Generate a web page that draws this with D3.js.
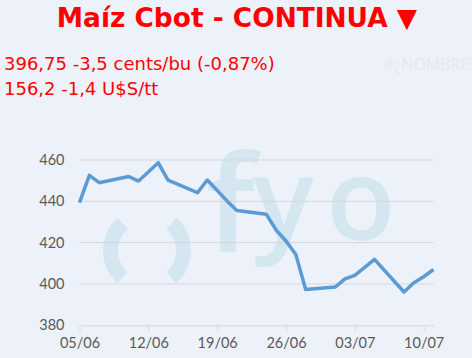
<!DOCTYPE html>
<html>
<head>
<meta charset="utf-8">
<script src="https://cdn.jsdelivr.net/npm/d3@7"></script>
<style>
  html, body { margin: 0; padding: 0; background: #edf2fa; }
  svg { display: block; }
</style>
</head>
<body>
<div id="viz"></div>
<script>
var dates = ["2024-06-05","2024-06-06","2024-06-07","2024-06-10","2024-06-11","2024-06-12","2024-06-13",
  "2024-06-14","2024-06-17","2024-06-18","2024-06-20","2024-06-21","2024-06-24","2024-06-25","2024-06-26",
  "2024-06-27","2024-06-28","2024-07-01","2024-07-02","2024-07-03","2024-07-05","2024-07-08","2024-07-09",
  "2024-07-10","2024-07-11"];
var prices = [439.4, 452.6, 449.0, 452.0, 449.8, 454.2, 458.7,
  450.3, 444.2, 450.3, 440.2, 435.6, 433.7, 426.1, 420.8,
  414.3, 397.3, 398.5, 402.5, 404.2, 411.9, 396.1, 400.6,
  403.5, 407.0];
var xTicks = ["2024-06-05","2024-06-12","2024-06-19","2024-06-26","2024-07-03","2024-07-10"];
var yTicks = [380, 400, 420, 440, 460];

var title = "Maíz Cbot - CONTINUA ▼",
    line1 = "396,75 -3,5 cents/bu (-0,87%)",
    line2 = "156,2 -1,4 U$S/tt";

var width = 472,
    height = 358,
    margin = {top: 160, right: 38.5, bottom: 32.7, left: 79.5};

var parse = d3.timeParse("%Y-%m-%d");
var points = dates.map((d, i) => ({date: parse(d), value: prices[i]}));

var svg = d3.select('#viz')
  .append("svg")
  .attr("width", width)
  .attr("height", height);

svg.append("rect").attr("width", width).attr("height", height).attr("fill", "#edf2fa");

// titles
svg.append("text")
  .attr("x", 237).attr("y", 27)
  .attr("text-anchor", "middle")
  .style("font-family", "Verdana, 'DejaVu Sans', sans-serif")
  .style("font-weight", "bold")
  .style("font-size", "26.4px")
  .attr("fill", "#ff0000")
  .text(title);

svg.append("text")
  .attr("x", 4).attr("y", 70)
  .style("font-family", "Verdana, 'DejaVu Sans', sans-serif")
  .style("font-size", "18px")
  .attr("fill", "#ff0000")
  .text(line1);

svg.append("text")
  .attr("x", 4).attr("y", 95)
  .style("font-family", "Verdana, 'DejaVu Sans', sans-serif")
  .style("font-size", "18px")
  .attr("fill", "#ff0000")
  .text(line2);

svg.append("text")
  .attr("x", 384).attr("y", 70)
  .style("font-family", "'Open Sans', sans-serif")
  .style("font-size", "16px")
  .attr("fill", "#e4e8ef")
  .text("#¿NOMBRE?");

// watermark (behind the chart)
var wm = svg.append("g").attr("fill", "#d4e6f0");
var arc = d3.arc().innerRadius(29).outerRadius(44);
wm.append("path")
  .attr("transform", "translate(147,250.5)")
  .attr("d", arc({startAngle: -138 * Math.PI / 180, endAngle: -42 * Math.PI / 180}));
wm.append("path")
  .attr("transform", "translate(147,250.5)")
  .attr("d", arc({startAngle: 42 * Math.PI / 180, endAngle: 138 * Math.PI / 180}));
wm.append("text")
  .attr("x", 206).attr("y", 252)
  .style("font-family", "'Open Sans', sans-serif")
  .style("font-weight", "600")
  .style("font-size", "135px")
  .text("f");
wm.append("text")
  .attr("x", 253).attr("y", 240)
  .style("font-family", "'Open Sans', sans-serif")
  .style("font-weight", "600")
  .style("font-size", "114px")
  .text("y");
wm.append("text")
  .attr("x", 326).attr("y", 240)
  .style("font-family", "'Open Sans', sans-serif")
  .style("font-weight", "600")
  .style("font-size", "114px")
  .text("o");

var g = svg.append("g")
  .attr("transform", `translate(${margin.left},${margin.top})`);

var w = width - margin.left - margin.right,
    h = height - margin.top - margin.bottom;

var x = d3.scaleTime()
  .domain([parse("2024-06-05"), parse("2024-07-11")])
  .range([0, w]);
var y = d3.scaleLinear().domain([380, 460]).range([h, 0]);

// grid
g.append("g")
  .selectAll("line")
  .data(yTicks.slice(1))
  .enter().append("line")
  .attr("x1", 0).attr("x2", w)
  .attr("y1", d => y(d)).attr("y2", d => y(d))
  .attr("stroke", "#d6d6d6")
  .attr("stroke-width", 1);

// x axis
var xAxis = d3.axisBottom(x)
  .tickValues(xTicks.map(parse))
  .tickFormat(d3.timeFormat("%d/%m"))
  .tickSize(6)
  .tickSizeOuter(0)
  .tickPadding(6);

var xg = g.append("g")
  .attr("transform", `translate(0,${h})`)
  .call(xAxis);
xg.select(".domain").attr("stroke", "#d6d6d6");
xg.selectAll(".tick line").attr("stroke", "#d6d6d6").attr("y1", 0);
xg.selectAll("text")
  .attr("fill", "#595959")
  .style("font-family", "Lato, sans-serif")
  .style("font-size", "14.5px");

// y axis
var yAxis = d3.axisLeft(y).tickValues(yTicks).tickSize(0).tickPadding(15);
var yg = g.append("g").call(yAxis);
yg.select(".domain").remove();
yg.selectAll("text")
  .attr("fill", "#595959")
  .style("font-family", "Lato, sans-serif")
  .style("font-size", "14.5px");

// line
var line = d3.line().x(d => x(d.date)).y(d => y(d.value));
g.append("path")
  .datum(points)
  .attr("fill", "none")
  .attr("stroke", "#5b9bd5")
  .attr("stroke-width", 3.5)
  .attr("stroke-linejoin", "round")
  .attr("d", line);
</script>
</body>
</html>
